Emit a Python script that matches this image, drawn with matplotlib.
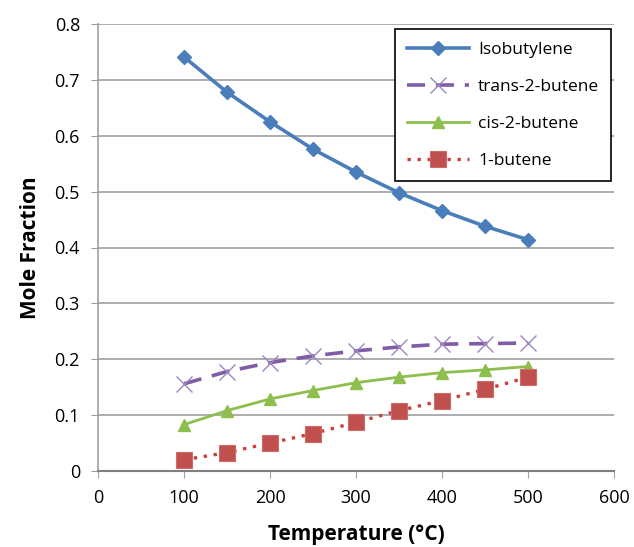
import matplotlib
matplotlib.use("Agg")
import matplotlib.pyplot as plt

temps = [100, 150, 200, 250, 300, 350, 400, 450, 500]
isobutylene = [0.741, 0.678, 0.625, 0.576, 0.535, 0.498, 0.466, 0.438, 0.414]
trans2 = [0.156, 0.178, 0.194, 0.206, 0.215, 0.222, 0.227, 0.228, 0.229]
cis2 = [0.083, 0.108, 0.129, 0.144, 0.158, 0.168, 0.176, 0.181, 0.187]
butene1 = [0.020, 0.033, 0.050, 0.067, 0.087, 0.108, 0.126, 0.146, 0.168]
labels = ["Isobutylene", "trans-2-butene", "cis-2-butene", "1-butene"]

plt.rcParams['font.family'] = ['Open Sans', 'DejaVu Sans']

fig = plt.figure(figsize=(6.34, 5.47), dpi=100)
ax = fig.add_axes([98/634, 76/547, 516/634, 447/547])

ax.plot(temps, isobutylene, color='#4A7EBB', lw=2.6, marker='D', ms=7,
        label=labels[0])
ax.plot(temps, trans2, color='#7E5CA6', lw=2.6, dashes=(5, 3), marker='x', ms=12,
        mew=1.0, mec='#9C86C0', label=labels[1])
ax.plot(temps, cis2, color='#8DBE4E', lw=2.0, marker='^', ms=8, label=labels[2])
ax.plot(temps, butene1, color='#C8403C', lw=2.4, linestyle=(0, (1, 2)), marker='s',
        ms=12, mfc='#C0504D', mec='#D06A66', mew=0.8, label=labels[3])

ax.set_xlim(0, 600)
ax.set_ylim(0, 0.8)
ax.set_xticks(range(0, 601, 100))
ax.set_yticks([i / 10 for i in range(9)])
ax.set_yticklabels(['0'] + [f'{i/10:.1f}' for i in range(1, 9)])
ax.yaxis.grid(True, color='#A0A0A0', lw=1.2)
ax.set_axisbelow(True)
for s in ['top', 'right']:
    ax.spines[s].set_visible(False)
ax.spines['left'].set_color('#A0A0A0')
ax.spines['left'].set_linewidth(1.2)
ax.spines['bottom'].set_color('#7F7F7F')
ax.spines['bottom'].set_linewidth(1.5)
ax.tick_params(axis='x', length=5, color='#A0A0A0', labelsize=13, pad=8)
ax.tick_params(axis='y', length=5, color='#A0A0A0', labelsize=13, pad=8)

ax.set_xlabel('Temperature (°C)', fontsize=15, fontweight='bold', labelpad=12)
ax.set_ylabel('Mole Fraction', fontsize=15, fontweight='bold', labelpad=10)

leg = ax.legend(loc='upper right', bbox_to_anchor=(0.995, 0.988), fontsize=12.5,
                frameon=True, fancybox=False, edgecolor='black', framealpha=1,
                handlelength=3.6, borderpad=0.7, labelspacing=1.2,
                handletextpad=0.5, borderaxespad=0)
leg.get_frame().set_linewidth(1.2)

fig.savefig('out.png', dpi=100)
